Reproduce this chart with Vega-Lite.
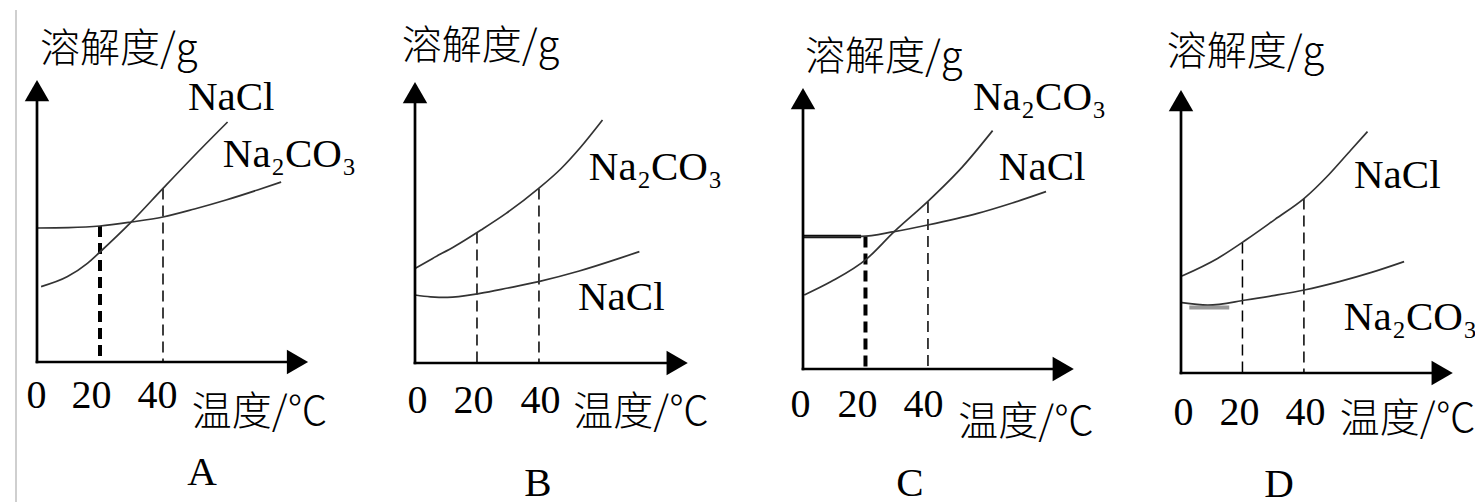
{
  "$schema": "https://vega.github.io/schema/vega-lite/v6.json",
  "background": "white",
  "padding": {"left": 14, "top": 0, "right": 0, "bottom": 0},
  "spacing": 0,
  "bounds": "flush",
  "config": {"view": {"stroke": null}},
  "datasets": {
    "curves": [
      {"p": "A", "series": "Na2CO3", "t": 0, "s": 67}, {"p": "A", "series": "Na2CO3", "t": 10, "s": 67.2}, {"p": "A", "series": "Na2CO3", "t": 20, "s": 68}, {"p": "A", "series": "Na2CO3", "t": 30, "s": 70}, {"p": "A", "series": "Na2CO3", "t": 40, "s": 72.5}, {"p": "A", "series": "Na2CO3", "t": 50, "s": 76.5}, {"p": "A", "series": "Na2CO3", "t": 60, "s": 81}, {"p": "A", "series": "Na2CO3", "t": 70, "s": 86}, {"p": "A", "series": "Na2CO3", "t": 77.5, "s": 90},
      {"p": "A", "series": "NaCl", "t": 1.3, "s": 37.7}, {"p": "A", "series": "NaCl", "t": 9.7, "s": 42.7}, {"p": "A", "series": "NaCl", "t": 16, "s": 49.3}, {"p": "A", "series": "NaCl", "t": 20, "s": 55}, {"p": "A", "series": "NaCl", "t": 29.8, "s": 69.8}, {"p": "A", "series": "NaCl", "t": 40, "s": 86.8}, {"p": "A", "series": "NaCl", "t": 52, "s": 106.5}, {"p": "A", "series": "NaCl", "t": 60.5, "s": 120},
      {"p": "B", "series": "Na2CO3", "t": 0, "s": 47.3}, {"p": "B", "series": "Na2CO3", "t": 5.7, "s": 52.3}, {"p": "B", "series": "Na2CO3", "t": 13, "s": 58.5}, {"p": "B", "series": "Na2CO3", "t": 21.3, "s": 66.5}, {"p": "B", "series": "Na2CO3", "t": 29.4, "s": 74.8}, {"p": "B", "series": "Na2CO3", "t": 39.9, "s": 87.3}, {"p": "B", "series": "Na2CO3", "t": 47, "s": 97}, {"p": "B", "series": "Na2CO3", "t": 53.5, "s": 108}, {"p": "B", "series": "Na2CO3", "t": 60.5, "s": 121.5},
      {"p": "B", "series": "NaCl", "t": 0, "s": 34}, {"p": "B", "series": "NaCl", "t": 5, "s": 33.1}, {"p": "B", "series": "NaCl", "t": 10.5, "s": 32.8}, {"p": "B", "series": "NaCl", "t": 21, "s": 34.8}, {"p": "B", "series": "NaCl", "t": 30, "s": 37.5}, {"p": "B", "series": "NaCl", "t": 39.9, "s": 40.7}, {"p": "B", "series": "NaCl", "t": 53, "s": 46}, {"p": "B", "series": "NaCl", "t": 65.9, "s": 52.3}, {"p": "B", "series": "NaCl", "t": 72.4, "s": 55.7},
      {"p": "C", "series": "NaCl", "t": 0, "s": 66.2}, {"p": "C", "series": "NaCl", "t": 10, "s": 66.2}, {"p": "C", "series": "NaCl", "t": 18.6, "s": 66.3}, {"p": "C", "series": "NaCl", "t": 29.2, "s": 68.7}, {"p": "C", "series": "NaCl", "t": 39.9, "s": 72}, {"p": "C", "series": "NaCl", "t": 55.9, "s": 77.8}, {"p": "C", "series": "NaCl", "t": 67, "s": 83}, {"p": "C", "series": "NaCl", "t": 77.8, "s": 88.7},
      {"p": "C", "series": "Na2CO3", "t": 0.4, "s": 37}, {"p": "C", "series": "Na2CO3", "t": 9, "s": 43.7}, {"p": "C", "series": "Na2CO3", "t": 20.2, "s": 54.8}, {"p": "C", "series": "Na2CO3", "t": 29.2, "s": 68.7}, {"p": "C", "series": "Na2CO3", "t": 39.9, "s": 83.7}, {"p": "C", "series": "Na2CO3", "t": 51.1, "s": 101.2}, {"p": "C", "series": "Na2CO3", "t": 60.7, "s": 119.2},
      {"p": "D", "series": "NaCl", "t": 0.3, "s": 48.5}, {"p": "D", "series": "NaCl", "t": 11.9, "s": 57.3}, {"p": "D", "series": "NaCl", "t": 21.1, "s": 66.5}, {"p": "D", "series": "NaCl", "t": 30.6, "s": 76.8}, {"p": "D", "series": "NaCl", "t": 40.1, "s": 87.3}, {"p": "D", "series": "NaCl", "t": 48, "s": 99}, {"p": "D", "series": "NaCl", "t": 55.3, "s": 111.5}, {"p": "D", "series": "NaCl", "t": 60.7, "s": 120.7},
      {"p": "D", "series": "Na2CO3", "t": 0.3, "s": 35.2}, {"p": "D", "series": "Na2CO3", "t": 8.7, "s": 34}, {"p": "D", "series": "Na2CO3", "t": 21.1, "s": 36.5}, {"p": "D", "series": "Na2CO3", "t": 30, "s": 38.7}, {"p": "D", "series": "Na2CO3", "t": 40.1, "s": 41.5}, {"p": "D", "series": "Na2CO3", "t": 51.5, "s": 45.7}, {"p": "D", "series": "Na2CO3", "t": 62, "s": 50.3}, {"p": "D", "series": "Na2CO3", "t": 72.6, "s": 55.7}
    ],
    "drops": [
      {"p": "A", "t": 20, "s": 68}, {"p": "A", "t": 40, "s": 86.8},
      {"p": "B", "t": 20, "s": 65.3}, {"p": "B", "t": 40, "s": 87.3},
      {"p": "C", "t": 20, "s": 66.2}, {"p": "C", "t": 40, "s": 83.5},
      {"p": "D", "t": 20, "s": 65.3}, {"p": "D", "t": 40, "s": 87.3}
    ],
    "axes": [
      {"p": "A", "t": 0, "t2": 83, "s": 0, "s2": 0}, {"p": "A", "t": 0, "t2": 0, "s": 0, "s2": 136},
      {"p": "B", "t": 0, "t2": 84.6, "s": 0, "s2": 0}, {"p": "B", "t": 0, "t2": 0, "s": 0, "s2": 135.2},
      {"p": "C", "t": 0, "t2": 83.3, "s": 0, "s2": 0}, {"p": "C", "t": 0, "t2": 0, "s": 0, "s2": 135.2},
      {"p": "D", "t": 0, "t2": 85, "s": 0, "s2": 0}, {"p": "D", "t": 0, "t2": 0, "s": 0, "s2": 136.2}
    ],
    "arrows": [
      {"p": "A", "dir": "x", "t": 82.7, "s": 0}, {"p": "A", "dir": "y", "t": 0, "s": 135.7},
      {"p": "B", "dir": "x", "t": 84.6, "s": 0}, {"p": "B", "dir": "y", "t": 0, "s": 135.2},
      {"p": "C", "dir": "x", "t": 83.3, "s": 0}, {"p": "C", "dir": "y", "t": 0, "s": 135.2},
      {"p": "D", "dir": "x", "t": 85, "s": 0}, {"p": "D", "dir": "y", "t": 0, "s": 136.2}
    ],
    "names": [
      {"p": "A", "name": "NaCl", "t": 47.9, "s": 126}, {"p": "A", "name": "Na₂CO₃", "t": 59, "s": 97.7},
      {"p": "B", "name": "Na₂CO₃", "t": 56.1, "s": 91.5}, {"p": "B", "name": "NaCl", "t": 52.6, "s": 26.5},
      {"p": "C", "name": "Na₂CO₃", "t": 54.4, "s": 129.5}, {"p": "C", "name": "NaCl", "t": 62.7, "s": 94.5},
      {"p": "D", "name": "NaCl", "t": 56.3, "s": 92.3}, {"p": "D", "name": "Na₂CO₃", "t": 53, "s": 21.5}
    ],
    "titles": [
      {"p": "A", "text": "溶解度/g", "t": 0.95, "s": 150}, {"p": "A", "text": "温度/℃", "t": 49.1, "s": -31.5},
      {"p": "B", "text": "溶解度/g", "t": -4.3, "s": 152.2}, {"p": "B", "text": "温度/℃", "t": 51.1, "s": -31},
      {"p": "C", "text": "溶解度/g", "t": 0.64, "s": 149.5}, {"p": "C", "text": "温度/℃", "t": 49.7, "s": -33},
      {"p": "D", "text": "溶解度/g", "t": -4.65, "s": 154}, {"p": "D", "text": "温度/℃", "t": 51.7, "s": -29.4}
    ],
    "letters": [
      {"p": "A", "letter": "A", "t": 52.4, "s": -61.5},
      {"p": "B", "letter": "B", "t": 39.7, "s": -66.3},
      {"p": "C", "letter": "C", "t": 34.2, "s": -63.3},
      {"p": "D", "letter": "D", "t": 31.9, "s": -62.2}
    ],
    "decor": [
      {"p": "A", "t": -6.67, "t2": -6.67, "s": 176, "s2": -70},
      {"p": "C", "t": 0, "t2": 18.6, "s": 66.2, "s2": 66.2},
      {"p": "D", "t": 2.7, "t2": 15.7, "s": 32.8, "s2": 32.8}
    ]
  },
  "hconcat": [
    {
      "width": 378, "height": 362,
      "encoding": {
        "x": {"field": "t", "type": "quantitative", "scale": {"domain": [0, 120], "nice": false, "zero": false},
              "axis": {"values": [0, 20, 40], "domain": false, "ticks": false, "tickSize": 0, "grid": false, "title": null, "labelFont": "Liberation Serif", "labelFontSize": 40, "labelColor": "#000", "labelPadding": 13.4, "labelFlush": false, "labelOverlap": false,
                       "labelOffset": {"condition": [{"test": "datum.value == 20", "value": -9}, {"test": "datum.value == 40", "value": -6}], "value": -1}}},
        "y": {"field": "s", "type": "quantitative", "scale": {"domain": [0, 181], "nice": false, "zero": false}, "axis": null}
      },
      "layer": [
        {"data": {"name": "decor"}, "transform": [{"filter": "datum.p == 'A'"}], "mark": {"type": "rule", "color": "#cfcfcf", "strokeWidth": 2}, "encoding": {"x2": {"field": "t2"}, "y2": {"field": "s2"}}},
        {"data": {"name": "drops"}, "transform": [{"filter": "datum.p == 'A' && datum.t == 40"}], "mark": {"type": "rule", "color": "#000", "strokeWidth": 1.5, "strokeDash": [11, 6]}, "encoding": {"y2": {"datum": 0}}},
        {"data": {"name": "drops"}, "transform": [{"filter": "datum.p == 'A' && datum.t == 20"}], "mark": {"type": "rule", "color": "#000", "strokeWidth": 4, "strokeDash": [11, 6]}, "encoding": {"y2": {"datum": 0}}},
        {"data": {"name": "curves"}, "transform": [{"filter": "datum.p == 'A'"}], "mark": {"type": "line", "color": "#333", "strokeWidth": 1.7, "interpolate": "monotone"}, "encoding": {"detail": {"field": "series", "type": "nominal"}}},
        {"data": {"name": "axes"}, "transform": [{"filter": "datum.p == 'A'"}], "mark": {"type": "rule", "color": "#000", "strokeWidth": 2.7, "strokeCap": "square"}, "encoding": {"x2": {"field": "t2"}, "y2": {"field": "s2"}}},
        {"data": {"name": "arrows"}, "transform": [{"filter": "datum.p == 'A'"}], "mark": {"type": "point", "filled": true, "color": "#000", "opacity": 1, "size": 600}, "encoding": {"shape": {"field": "dir", "type": "nominal", "scale": {"domain": ["x", "y"], "range": ["triangle-right", "triangle-up"]}, "legend": null}}},
        {"data": {"name": "names"}, "transform": [{"filter": "datum.p == 'A'"}], "mark": {"type": "text", "align": "left", "baseline": "alphabetic", "font": "Liberation Serif", "fontSize": 41, "color": "#000"}, "encoding": {"text": {"field": "name"}}},
        {"data": {"name": "titles"}, "transform": [{"filter": "datum.p == 'A'"}], "mark": {"type": "text", "align": "left", "baseline": "alphabetic", "font": "Noto Sans CJK SC", "fontSize": 40, "fontWeight": 300, "color": "#000"}, "encoding": {"text": {"field": "text"}}},
        {"data": {"name": "letters"}, "transform": [{"filter": "datum.p == 'A'"}], "mark": {"type": "text", "align": "center", "baseline": "alphabetic", "font": "Liberation Serif", "fontSize": 41, "color": "#000"}, "encoding": {"text": {"field": "letter"}}}
      ]
    },
    {
      "width": 388, "height": 363,
      "encoding": {
        "x": {"field": "t", "type": "quantitative", "scale": {"domain": [0, 125.2], "nice": false, "zero": false},
              "axis": {"values": [0, 20, 40], "domain": false, "ticks": false, "tickSize": 0, "grid": false, "title": null, "labelFont": "Liberation Serif", "labelFontSize": 40, "labelColor": "#000", "labelPadding": 17.4, "labelFlush": false, "labelOverlap": false,
                       "labelOffset": {"condition": [{"test": "datum.value == 20", "value": -4}, {"test": "datum.value == 40", "value": 1}], "value": 2}}},
        "y": {"field": "s", "type": "quantitative", "scale": {"domain": [0, 181.5], "nice": false, "zero": false}, "axis": null}
      },
      "layer": [
        {"data": {"name": "drops"}, "transform": [{"filter": "datum.p == 'B'"}], "mark": {"type": "rule", "color": "#000", "strokeWidth": 1.5, "strokeDash": [11, 6]}, "encoding": {"y2": {"datum": 0}}},
        {"data": {"name": "curves"}, "transform": [{"filter": "datum.p == 'B'"}], "mark": {"type": "line", "color": "#333", "strokeWidth": 1.7, "interpolate": "monotone"}, "encoding": {"detail": {"field": "series", "type": "nominal"}}},
        {"data": {"name": "axes"}, "transform": [{"filter": "datum.p == 'B'"}], "mark": {"type": "rule", "color": "#000", "strokeWidth": 2.7, "strokeCap": "square"}, "encoding": {"x2": {"field": "t2"}, "y2": {"field": "s2"}}},
        {"data": {"name": "arrows"}, "transform": [{"filter": "datum.p == 'B'"}], "mark": {"type": "point", "filled": true, "color": "#000", "opacity": 1, "size": 600}, "encoding": {"shape": {"field": "dir", "type": "nominal", "scale": {"domain": ["x", "y"], "range": ["triangle-right", "triangle-up"]}, "legend": null}}},
        {"data": {"name": "names"}, "transform": [{"filter": "datum.p == 'B'"}], "mark": {"type": "text", "align": "left", "baseline": "alphabetic", "font": "Liberation Serif", "fontSize": 41, "color": "#000"}, "encoding": {"text": {"field": "name"}}},
        {"data": {"name": "titles"}, "transform": [{"filter": "datum.p == 'B'"}], "mark": {"type": "text", "align": "left", "baseline": "alphabetic", "font": "Noto Sans CJK SC", "fontSize": 40, "fontWeight": 300, "color": "#000"}, "encoding": {"text": {"field": "text"}}},
        {"data": {"name": "letters"}, "transform": [{"filter": "datum.p == 'B'"}], "mark": {"type": "text", "align": "center", "baseline": "alphabetic", "font": "Liberation Serif", "fontSize": 41, "color": "#000"}, "encoding": {"text": {"field": "letter"}}}
      ]
    },
    {
      "width": 378, "height": 369,
      "encoding": {
        "x": {"field": "t", "type": "quantitative", "scale": {"domain": [0, 121], "nice": false, "zero": false},
              "axis": {"values": [0, 20, 40], "domain": false, "ticks": false, "tickSize": 0, "grid": false, "title": null, "labelFont": "Liberation Serif", "labelFontSize": 40, "labelColor": "#000", "labelPadding": 15.4, "labelFlush": false, "labelOverlap": false,
                       "labelOffset": {"condition": [{"test": "datum.value == 20", "value": -8.5}, {"test": "datum.value == 40", "value": -5}], "value": -3}}},
        "y": {"field": "s", "type": "quantitative", "scale": {"domain": [0, 184.5], "nice": false, "zero": false}, "axis": null}
      },
      "layer": [
        {"data": {"name": "drops"}, "transform": [{"filter": "datum.p == 'C' && datum.t == 40"}], "mark": {"type": "rule", "color": "#000", "strokeWidth": 1.5, "strokeDash": [11, 6]}, "encoding": {"y2": {"datum": 0}}},
        {"data": {"name": "drops"}, "transform": [{"filter": "datum.p == 'C' && datum.t == 20"}], "mark": {"type": "rule", "color": "#000", "strokeWidth": 4, "strokeDash": [11, 6]}, "encoding": {"y2": {"datum": 0}}},
        {"data": {"name": "decor"}, "transform": [{"filter": "datum.p == 'C'"}], "mark": {"type": "rule", "color": "#000", "strokeWidth": 3.5}, "encoding": {"x2": {"field": "t2"}, "y2": {"field": "s2"}}},
        {"data": {"name": "curves"}, "transform": [{"filter": "datum.p == 'C'"}], "mark": {"type": "line", "color": "#333", "strokeWidth": 1.7, "interpolate": "monotone"}, "encoding": {"detail": {"field": "series", "type": "nominal"}}},
        {"data": {"name": "axes"}, "transform": [{"filter": "datum.p == 'C'"}], "mark": {"type": "rule", "color": "#000", "strokeWidth": 2.7, "strokeCap": "square"}, "encoding": {"x2": {"field": "t2"}, "y2": {"field": "s2"}}},
        {"data": {"name": "arrows"}, "transform": [{"filter": "datum.p == 'C'"}], "mark": {"type": "point", "filled": true, "color": "#000", "opacity": 1, "size": 600}, "encoding": {"shape": {"field": "dir", "type": "nominal", "scale": {"domain": ["x", "y"], "range": ["triangle-right", "triangle-up"]}, "legend": null}}},
        {"data": {"name": "names"}, "transform": [{"filter": "datum.p == 'C'"}], "mark": {"type": "text", "align": "left", "baseline": "alphabetic", "font": "Liberation Serif", "fontSize": 41, "color": "#000"}, "encoding": {"text": {"field": "name"}}},
        {"data": {"name": "titles"}, "transform": [{"filter": "datum.p == 'C'"}], "mark": {"type": "text", "align": "left", "baseline": "alphabetic", "font": "Noto Sans CJK SC", "fontSize": 40, "fontWeight": 300, "color": "#000"}, "encoding": {"text": {"field": "text"}}},
        {"data": {"name": "letters"}, "transform": [{"filter": "datum.p == 'C'"}], "mark": {"type": "text", "align": "center", "baseline": "alphabetic", "font": "Liberation Serif", "fontSize": 41, "color": "#000"}, "encoding": {"text": {"field": "letter"}}}
      ]
    },
    {
      "width": 295, "height": 373,
      "encoding": {
        "x": {"field": "t", "type": "quantitative", "scale": {"domain": [0, 96], "nice": false, "zero": false},
              "axis": {"values": [0, 20, 40], "domain": false, "ticks": false, "tickSize": 0, "grid": false, "title": null, "labelFont": "Liberation Serif", "labelFontSize": 40, "labelColor": "#000", "labelPadding": 19, "labelFlush": false, "labelOverlap": false,
                       "labelOffset": {"condition": [{"test": "datum.value == 20", "value": -3.5}, {"test": "datum.value == 40", "value": 1}], "value": 2}}},
        "y": {"field": "s", "type": "quantitative", "scale": {"domain": [0, 186.5], "nice": false, "zero": false}, "axis": null}
      },
      "layer": [
        {"data": {"name": "decor"}, "transform": [{"filter": "datum.p == 'D'"}], "mark": {"type": "rule", "color": "#999", "strokeWidth": 4}, "encoding": {"x2": {"field": "t2"}, "y2": {"field": "s2"}}},
        {"data": {"name": "drops"}, "transform": [{"filter": "datum.p == 'D'"}], "mark": {"type": "rule", "color": "#000", "strokeWidth": 1.5, "strokeDash": [11, 6]}, "encoding": {"y2": {"datum": 0}}},
        {"data": {"name": "curves"}, "transform": [{"filter": "datum.p == 'D'"}], "mark": {"type": "line", "color": "#333", "strokeWidth": 1.7, "interpolate": "monotone"}, "encoding": {"detail": {"field": "series", "type": "nominal"}}},
        {"data": {"name": "axes"}, "transform": [{"filter": "datum.p == 'D'"}], "mark": {"type": "rule", "color": "#000", "strokeWidth": 2.7, "strokeCap": "square"}, "encoding": {"x2": {"field": "t2"}, "y2": {"field": "s2"}}},
        {"data": {"name": "arrows"}, "transform": [{"filter": "datum.p == 'D'"}], "mark": {"type": "point", "filled": true, "color": "#000", "opacity": 1, "size": 600}, "encoding": {"shape": {"field": "dir", "type": "nominal", "scale": {"domain": ["x", "y"], "range": ["triangle-right", "triangle-up"]}, "legend": null}}},
        {"data": {"name": "names"}, "transform": [{"filter": "datum.p == 'D'"}], "mark": {"type": "text", "align": "left", "baseline": "alphabetic", "font": "Liberation Serif", "fontSize": 41, "color": "#000"}, "encoding": {"text": {"field": "name"}}},
        {"data": {"name": "titles"}, "transform": [{"filter": "datum.p == 'D'"}], "mark": {"type": "text", "align": "left", "baseline": "alphabetic", "font": "Noto Sans CJK SC", "fontSize": 40, "fontWeight": 300, "color": "#000"}, "encoding": {"text": {"field": "text"}}},
        {"data": {"name": "letters"}, "transform": [{"filter": "datum.p == 'D'"}], "mark": {"type": "text", "align": "center", "baseline": "alphabetic", "font": "Liberation Serif", "fontSize": 41, "color": "#000"}, "encoding": {"text": {"field": "letter"}}}
      ]
    }
  ]
}
